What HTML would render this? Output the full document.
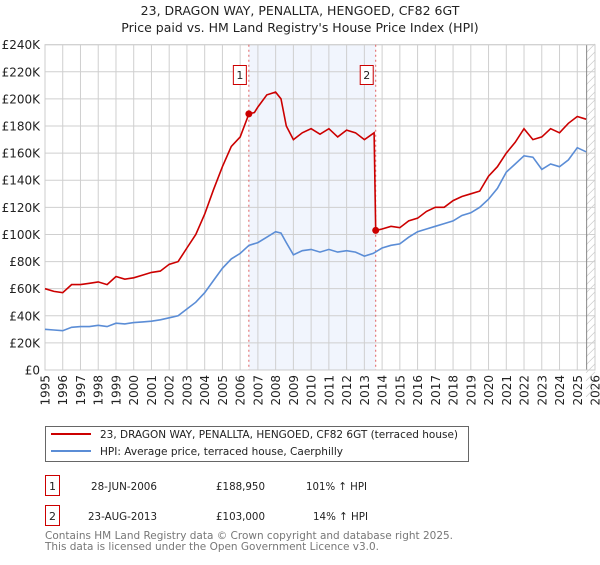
<!DOCTYPE html>
<html><head><meta charset="utf-8"><style>
body{margin:0;background:#fff;font-family:"Liberation Sans","DejaVu Sans",sans-serif;}
svg text{font-family:"DejaVu Sans","Liberation Sans",sans-serif;}
</style></head><body>
<svg id="c" width="600" height="560" xmlns="http://www.w3.org/2000/svg">
<text x="300" y="15" text-anchor="middle" font-size="12.5" fill="#222">23, DRAGON WAY, PENALLTA, HENGOED, CF82 6GT</text>
<text x="300" y="32" text-anchor="middle" font-size="12.5" fill="#222">Price paid vs. HM Land Registry's House Price Index (HPI)</text>
<g id="grid"></g><g id="marks"></g><g id="axes"></g>
<g>
<rect x="45.5" y="426.5" width="423" height="35" fill="#fff" stroke="#666"/>
<line x1="51" y1="434" x2="91" y2="434" stroke="#cc0000" stroke-width="2"/>
<text x="100" y="438" font-size="11" fill="#222" textLength="358" lengthAdjust="spacingAndGlyphs">23, DRAGON WAY, PENALLTA, HENGOED, CF82 6GT (terraced house)</text>
<line x1="51" y1="451" x2="91" y2="451" stroke="#5b8dd6" stroke-width="2"/>
<text x="100" y="455" font-size="11" fill="#222" textLength="243" lengthAdjust="spacingAndGlyphs">HPI: Average price, terraced house, Caerphilly</text>
</g>
<g>
<rect x="45.5" y="475.5" width="14" height="20" fill="#fff" stroke="#cc0000"/>
<text x="52.5" y="490" text-anchor="middle" font-size="11" fill="#222">1</text>
<text x="91" y="490" font-size="11" fill="#222" textLength="66" lengthAdjust="spacingAndGlyphs">28-JUN-2006</text>
<text x="216" y="490" font-size="11" fill="#222" textLength="49" lengthAdjust="spacingAndGlyphs">£188,950</text>
<text x="306" y="490" font-size="11" fill="#222" textLength="61" lengthAdjust="spacingAndGlyphs">101% ↑ HPI</text>
</g>
<g>
<rect x="45.5" y="505.5" width="14" height="20" fill="#fff" stroke="#cc0000"/>
<text x="52.5" y="520" text-anchor="middle" font-size="11" fill="#222">2</text>
<text x="88" y="520" font-size="11" fill="#222" textLength="69" lengthAdjust="spacingAndGlyphs">23-AUG-2013</text>
<text x="216" y="520" font-size="11" fill="#222" textLength="49" lengthAdjust="spacingAndGlyphs">£103,000</text>
<text x="313" y="520" font-size="11" fill="#222" textLength="55" lengthAdjust="spacingAndGlyphs">14% ↑ HPI</text>
</g>
<text x="45" y="539" font-size="11" fill="#777" textLength="408" lengthAdjust="spacingAndGlyphs">Contains HM Land Registry data © Crown copyright and database right 2025.</text>
<text x="45" y="550" font-size="11" fill="#777" textLength="334" lengthAdjust="spacingAndGlyphs">This data is licensed under the Open Government Licence v3.0.</text>
</svg>
<script>
const yTicks=[0,20,40,60,80,100,120,140,160,180,200,220,240];
const yTickLabels=["£0","£20K","£40K","£60K","£80K","£100K","£120K","£140K","£160K","£180K","£200K","£220K","£240K"];
const years=[1995,1996,1997,1998,1999,2000,2001,2002,2003,2004,2005,2006,2007,2008,2009,2010,2011,2012,2013,2014,2015,2016,2017,2018,2019,2020,2021,2022,2023,2024,2025,2026];
const hpiDates=[1995,1995.5,1996,1996.5,1997,1997.5,1998,1998.5,1999,1999.5,2000,2000.5,2001,2001.5,2002,2002.5,2003,2003.5,2004,2004.5,2005,2005.5,2006,2006.5,2007,2007.5,2008,2008.3,2008.6,2009,2009.5,2010,2010.5,2011,2011.5,2012,2012.5,2013,2013.5,2014,2014.5,2015,2015.5,2016,2016.5,2017,2017.5,2018,2018.5,2019,2019.5,2020,2020.5,2021,2021.5,2022,2022.5,2023,2023.5,2024,2024.5,2025,2025.5];
const hpiValues=[30,29.5,29,31.5,32,32,33,32,34.5,34,35,35.5,36,37,38.5,40,45,50,57,66,75,82,86,92,94,98,102,101,94,85,88,89,87,89,87,88,87,84,86,90,92,93,98,102,104,106,108,110,114,116,120,126,134,146,152,158,157,148,152,150,155,164,161];
const priceDates=[1995,1995.5,1996,1996.5,1997,1997.5,1998,1998.5,1999,1999.5,2000,2000.5,2001,2001.5,2002,2002.5,2003,2003.5,2004,2004.5,2005,2005.5,2006,2006.49,2006.8,2007,2007.5,2008,2008.3,2008.6,2009,2009.5,2010,2010.5,2011,2011.5,2012,2012.5,2013,2013.55,2013.64,2014,2014.5,2015,2015.5,2016,2016.5,2017,2017.5,2018,2018.5,2019,2019.5,2020,2020.5,2021,2021.5,2022,2022.5,2023,2023.5,2024,2024.5,2025,2025.5];
const priceValues=[60,58,57,63,63,64,65,63,69,67,68,70,72,73,78,80,90,100,115,133,150,165,172,188.95,190,194,203,205,200,180,170,175,178,174,178,172,177,175,170,175,103,104,106,105,110,112,117,120,120,125,128,130,132,143,150,160,168,178,170,172,178,175,182,187,185];
const saleDates=[2006.49,2013.64];
const saleValues=[188.95,103];
const saleLabels=["1","2"];

const L=45,R=595,T=44.7,B=370;
const X=d=>L+(d-1995)/31*(R-L);
const Y=v=>B-v/240*(B-T);
const NS="http://www.w3.org/2000/svg";
function mk(tag,attrs,parent){const e=document.createElementNS(NS,tag);for(const k in attrs)e.setAttribute(k,attrs[k]);parent.appendChild(e);return e;}
const grid=document.getElementById('grid'),marks=document.getElementById('marks'),axes=document.getElementById('axes');
const sh=mk('rect',{x:X(saleDates[0]),y:T,width:X(saleDates[1])-X(saleDates[0]),height:B-T,fill:'#eef3fd',opacity:0.8},grid);


const hx=X(2025.5);
const hr=mk('rect',{x:hx,y:T,width:R-hx,height:B-T,fill:'#fff'},grid);


for(let y=T;y<B+20;y+=8){mk('line',{x1:hx,y1:y+8,x2:R,y2:y+8-(R-hx),stroke:'#ccc','stroke-width':0.7},grid);}
years.forEach(yr=>{const l=mk('line',{x1:X(yr),y1:T,x2:X(yr),y2:B,stroke:'#cfcfcf','stroke-width':1},grid);


const t=mk('text',{x:0,y:0,'font-size':12,fill:'#222','text-anchor':'end',transform:`translate(${X(yr)+4.5},375) rotate(-90)`},axes);t.textContent=yr;

});
yTicks.forEach((v,i)=>{const l=mk('line',{x1:L,y1:Y(v),x2:R,y2:Y(v),stroke:'#cfcfcf','stroke-width':1},grid);


const t=mk('text',{x:40,y:Y(v)+4.5,'font-size':12,fill:'#222','text-anchor':'end'},axes);t.textContent=yTickLabels[i];

});
mk('line',{x1:hx+0.5,y1:T,x2:hx+0.5,y2:B,stroke:'#888'},grid);
mk('rect',{x:L,y:T,width:R-L,height:B-T,fill:'none',stroke:'#ccc'},grid);
saleDates.forEach((d,i)=>{const l=mk('line',{x1:X(d),y1:T,x2:X(d),y2:B,stroke:'#e06060','stroke-dasharray':'2,3','stroke-width':1},marks);

});
const path=(ds,vs)=>ds.map((d,i)=>(i?'L':'M')+X(d).toFixed(1)+','+Y(vs[i]).toFixed(1)).join('');
const hp=mk('path',{d:path(hpiDates,hpiValues),fill:'none',stroke:'#5b8dd6','stroke-width':1.6},marks);


const pp=mk('path',{d:path(priceDates,priceValues),fill:'none',stroke:'#cc0000','stroke-width':1.6},marks);


saleDates.forEach((d,i)=>{const c=mk('circle',{cx:X(d),cy:Y(saleValues[i]),r:3.5,fill:'#cc0000'},marks);


const bx=X(d)-16;
const b=mk('rect',{x:bx+0.5,y:65.5,width:13,height:19,fill:'#fff',stroke:'#cc0000'},marks);


const t=mk('text',{x:bx+7,y:79,'font-size':11,fill:'#222','text-anchor':'middle'},marks);t.textContent=saleLabels[i];

});
</script>
</body></html>
